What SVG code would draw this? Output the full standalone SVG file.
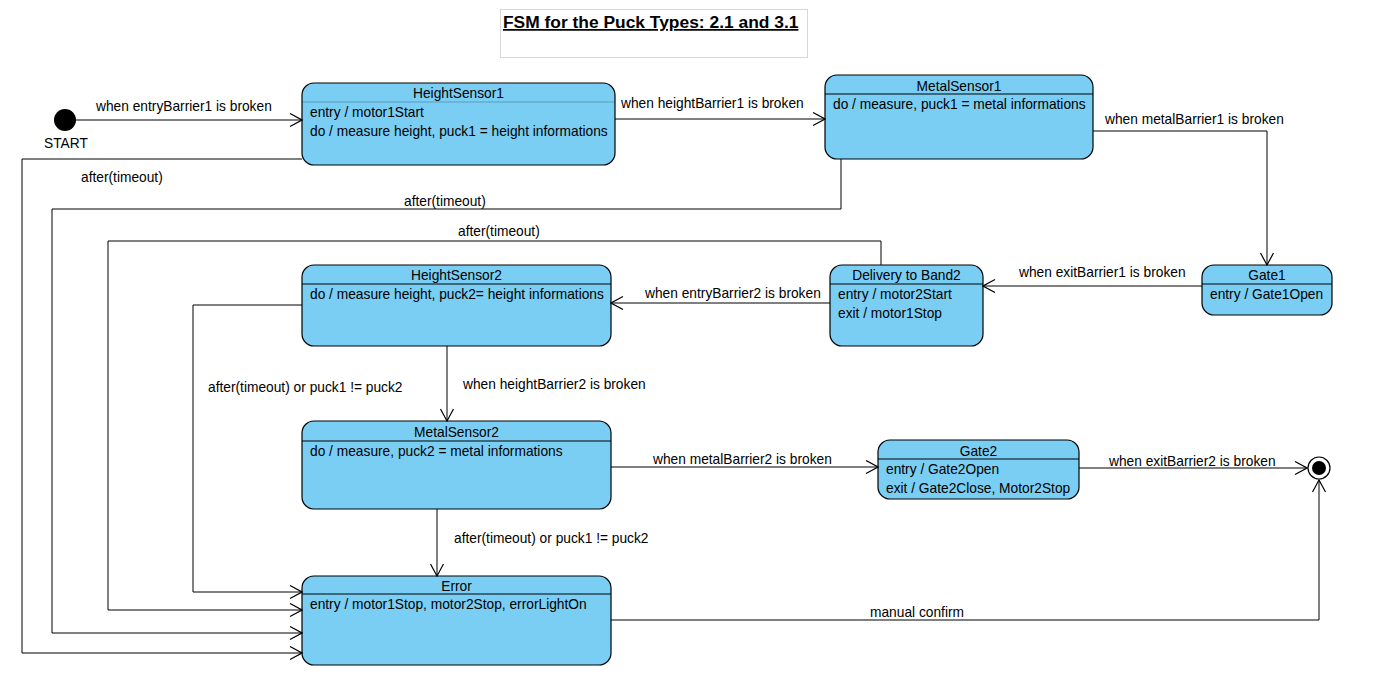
<svg xmlns="http://www.w3.org/2000/svg" width="1376" height="694" viewBox="0 0 1376 694">
<style>
text{font-family:"Liberation Sans",Arial,sans-serif;font-size:13.75px;fill:#000}
.state rect{fill:#7ACEF4;stroke:#000;stroke-width:1.2}
.state line{stroke:#000;stroke-width:1}
.t{text-anchor:middle}
.conn path{fill:none;stroke:#000;stroke-width:1;marker-end:url(#arr)}
.title{font-size:17.4px;font-weight:bold;text-decoration:underline}
</style>
<defs>
<marker id="arr" markerUnits="userSpaceOnUse" markerWidth="14" markerHeight="16" refX="13" refY="7" orient="auto">
<path d="M1,0.5 L13,7 L1,13.5" fill="none" stroke="#000" stroke-width="1.2"/>
</marker>
</defs>
<rect width="1376" height="694" fill="#fff"/>
<g id="title">
<rect x="500.5" y="9.5" width="307" height="48" fill="#fff" stroke="#d8d8d8"/>
<text class="title" x="503" y="28">FSM for the Puck Types: 2.1 and 3.1</text>
</g>
<g id="start">
<circle cx="65" cy="120" r="11" fill="#000"/>
<text x="44" y="148">START</text>
</g>
<g id="end">
<circle cx="1319" cy="468" r="11" fill="#fff" stroke="#000" stroke-width="1.2"/>
<circle cx="1319" cy="468" r="7" fill="#000"/>
</g>
<g id="HeightSensor1" class="state">
<rect x="302" y="83" width="313" height="82" rx="12"/>
<line x1="302" y1="102" x2="615" y2="102" stroke-opacity="0.25"/>
<text class="t" x="458.5" y="98">HeightSensor1</text>
<text x="310" y="117">entry / motor1Start</text>
<text x="310" y="136">do / measure height, puck1 = height informations</text>
</g>
<g id="MetalSensor1" class="state">
<rect x="825" y="75" width="268" height="84" rx="12"/>
<line x1="825" y1="94" x2="1093" y2="94"/>
<text class="t" x="959" y="91">MetalSensor1</text>
<text x="833" y="109">do / measure, puck1 = metal informations</text>
</g>
<g id="Gate1" class="state">
<rect x="1202" y="265" width="130" height="50" rx="12"/>
<line x1="1202" y1="284" x2="1332" y2="284"/>
<text class="t" x="1267" y="280">Gate1</text>
<text x="1210" y="299">entry / Gate1Open</text>
</g>
<g id="DeliveryToBand2" class="state">
<rect x="830" y="265" width="153" height="81" rx="12"/>
<line x1="830" y1="284" x2="983" y2="284"/>
<text class="t" x="906.5" y="280">Delivery to Band2</text>
<text x="838" y="299">entry / motor2Start</text>
<text x="838" y="318">exit / motor1Stop</text>
</g>
<g id="HeightSensor2" class="state">
<rect x="302" y="265" width="309" height="81" rx="12"/>
<line x1="302" y1="284" x2="611" y2="284"/>
<text class="t" x="456.5" y="280">HeightSensor2</text>
<text x="310" y="299">do / measure height, puck2= height informations</text>
</g>
<g id="MetalSensor2" class="state">
<rect x="302" y="421" width="309" height="88" rx="12"/>
<line x1="302" y1="441" x2="611" y2="441"/>
<text class="t" x="456.5" y="437">MetalSensor2</text>
<text x="310" y="456">do / measure, puck2 = metal informations</text>
</g>
<g id="Gate2" class="state">
<rect x="878" y="440" width="201" height="59" rx="12"/>
<line x1="878" y1="459" x2="1079" y2="459"/>
<text class="t" x="978.5" y="456">Gate2</text>
<text x="886" y="474">entry / Gate2Open</text>
<text x="886" y="493">exit / Gate2Close, Motor2Stop</text>
</g>
<g id="Error" class="state">
<rect x="302" y="576" width="309" height="89" rx="12"/>
<line x1="302" y1="594" x2="611" y2="594"/>
<text class="t" x="456.5" y="591">Error</text>
<text x="310" y="609">entry / motor1Stop, motor2Stop, errorLightOn</text>
</g>
<g id="connectors" class="conn">
<path d="M76 120 H302"/>
<path d="M615 119 H825"/>
<path d="M1093 131 H1267 V265"/>
<path d="M1202 286 H983"/>
<path d="M830 303 H611"/>
<path d="M447 346 V421"/>
<path d="M611 467 H878"/>
<path d="M1079 468 H1307"/>
<path d="M437 509 V576"/>
<path d="M611 620 H1319 V480"/>
<path d="M302 305 H193 V592 H302"/>
<path d="M881 265 V241 H108 V610 H302"/>
<path d="M841 159 V209 H52 V633 H302"/>
<path d="M302 159 H22 V653 H302"/>
<text x="96" y="111">when entryBarrier1 is broken</text>
<text x="621" y="108">when heightBarrier1 is broken</text>
<text x="1105" y="124">when metalBarrier1 is broken</text>
<text x="1019" y="277">when exitBarrier1 is broken</text>
<text x="645" y="298">when entryBarrier2 is broken</text>
<text x="463" y="389">when heightBarrier2 is broken</text>
<text x="653" y="464">when metalBarrier2 is broken</text>
<text x="1109" y="466">when exitBarrier2 is broken</text>
<text x="454" y="543">after(timeout) or puck1 != puck2</text>
<text x="870" y="617">manual confirm</text>
<text x="208" y="392">after(timeout) or puck1 != puck2</text>
<text x="458" y="236">after(timeout)</text>
<text x="404" y="206">after(timeout)</text>
<text x="81" y="182">after(timeout)</text>
</g>
</svg>
